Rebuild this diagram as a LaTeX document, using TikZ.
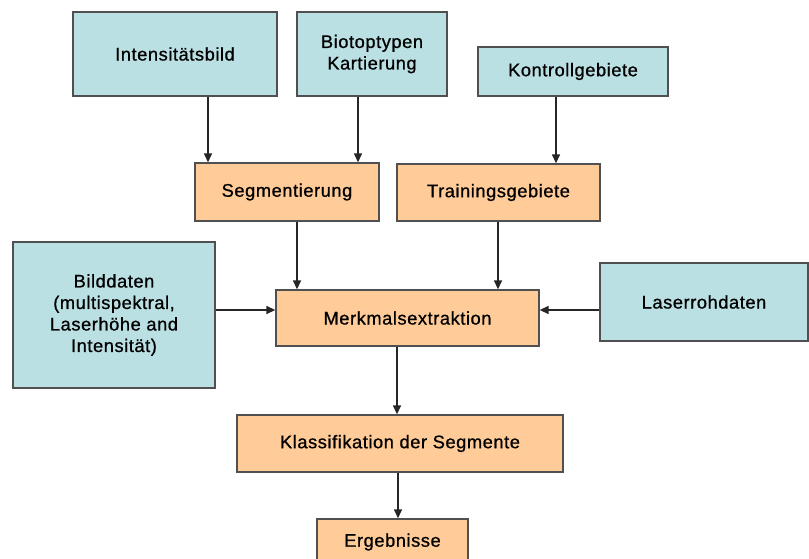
\documentclass[tikz,border=0pt]{standalone}
\usepackage{fontspec}
\setmainfont[LetterSpace=3,FakeBold=0.8]{Liberation Sans}
\usetikzlibrary{arrows.meta,calc}
\definecolor{boxblue}{HTML}{BBE0E3}
\definecolor{boxorange}{HTML}{FFCC99}
\definecolor{edge}{HTML}{505050}
\begin{document}
\begin{tikzpicture}[x=1pt,y=-1pt,
  base/.style={draw=edge,line width=1.3pt,rectangle,align=center,inner sep=0pt,
    font=\fontsize{18.3}{21.5}\selectfont,text=black},
  bluebox/.style={base,fill=boxblue},
  orangebox/.style={base,fill=boxorange},
  arr/.style={line width=1.3pt,draw=black!85,-{Triangle[width=8pt,length=9pt]}}]
\useasboundingbox (0,0) rectangle (809,558);
\node[bluebox,minimum width=204pt,minimum height=84pt] (int) at (175,54) {Intensitätsbild};
\node[bluebox,minimum width=150pt,minimum height=84pt] (bio) at (372,54) {Biotoptypen\\Kartierung};
\node[bluebox,minimum width=190pt,minimum height=49pt] (kon) at (573,71.5) {Kontrollgebiete};
\node[orangebox,minimum width=184pt,minimum height=58pt] (seg) at (287,192) {Segmentierung};
\node[orangebox,minimum width=203pt,minimum height=57pt] (tra) at (498.5,192.5) {Trainingsgebiete};
\node[bluebox,minimum width=202pt,minimum height=146pt] (bild) at (114,315) {Bilddaten\\(multispektral,\\Laserhöhe and\\Intensität)};
\node[orangebox,minimum width=263pt,minimum height=56pt] (merk) at (407.5,318) {Merkmalsextraktion};
\node[bluebox,minimum width=208pt,minimum height=78pt] (laser) at (704,302) {Laserrohdaten};
\node[orangebox,minimum width=326pt,minimum height=57pt] (klass) at (400,443.5) {Klassifikation der Segmente};
\node[orangebox,minimum width=151pt,minimum height=56pt] (erg) at (392.5,547) {};
\node[font=\fontsize{18.3}{21.5}\selectfont] (ergt) at (392.5,542) {Ergebnisse};
\draw[arr] ([xshift=33pt]int.south) -- ([xshift=33pt]int.south |- seg.north);
\draw[arr] ([xshift=-14pt]bio.south) -- ([xshift=-14pt]bio.south |- seg.north);
\draw[arr] ([xshift=-17pt]kon.south) -- ([xshift=-17pt]kon.south |- tra.north);
\draw[arr] ([xshift=10pt]seg.south) -- ([xshift=10pt]seg.south |- merk.north);
\draw[arr] ([xshift=-0.5pt]tra.south) -- ([xshift=-0.5pt]tra.south |- merk.north);
\draw[arr] ([yshift=5pt]bild.east) -- ([yshift=5pt]bild.east -| merk.west);
\draw[arr] ([yshift=-8pt]laser.west) -- ([yshift=-8pt]laser.west -| merk.east);
\draw[arr] ([xshift=-10.5pt]merk.south) -- ([xshift=-10.5pt]merk.south |- klass.north);
\draw[arr] ([xshift=-2pt]klass.south) -- ([xshift=-2pt]klass.south |- erg.north);
\end{tikzpicture}
\end{document}
